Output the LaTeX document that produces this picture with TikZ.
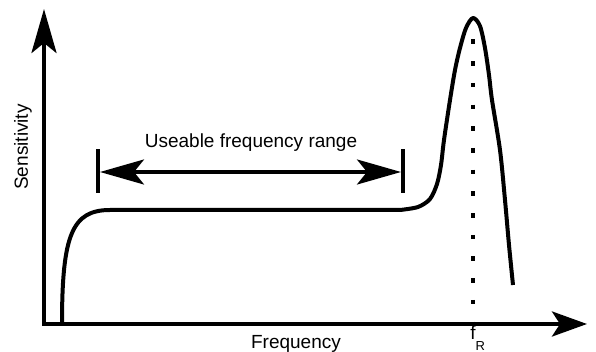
\documentclass[tikz,border=0pt]{standalone}
\usepackage{fontspec}
\setmainfont{Liberation Sans}
\usetikzlibrary{arrows.meta}

\begin{document}
\begin{tikzpicture}[x=0.5pt, y=-0.5pt, line join=round,
  axis/.style={line width=2pt, line join=miter},
  curve/.style={line width=2pt},
  rangearrow/.style={line width=1.6pt, {Stealth[length=22pt,width=12.5pt,inset=5pt]}-{Stealth[length=22pt,width=12.5pt,inset=5pt]}},
  bar/.style={line width=2pt},
  dots/.style={line width=2.3pt, dash pattern=on 2.3pt off 8.55pt},
  lbl/.style={font=\fontsize{9.5}{11}\selectfont, inner sep=0pt}]
\useasboundingbox (0,0) rectangle (596,352);
% axes
\coordinate (o) at (44,324);
\coordinate (ytop) at (44,9);
\coordinate (xend) at (587,324);
\draw[axis, {Stealth[length=22pt,width=12.5pt,inset=5pt]}-{Stealth[length=17.5pt,width=12.5pt,inset=4pt]}] (ytop) -- (o) -- (xend);
\node[lbl, rotate=90] (sens) at (23,147) {Sensitivity};
\node[lbl, anchor=base] (freq) at (296,349) {Frequency};
% response curve
\draw[curve] (62,324) .. controls (62,235) and (72,210) .. (110,210) -- (400,210)
  plot[smooth] coordinates {(400,210) (418,207) (430,199) (437,184) (441,165) (444,140) (450,100)
    (455,70) (460,48) (466,28) (473,18) (480,26) (485,48) (489,75) (492,100) (500,150)
    (505,200) (509,245) (513,285)};
% resonance
\coordinate (peak) at (473,39.5);
\coordinate (fr) at (473,326);
\draw[dots] (peak) -- (fr);
\node[lbl, anchor=base west] (frl) at (470,340) {f\raisebox{-5.5pt}{\fontsize{6.5}{7}\selectfont R}};
% useable range
\coordinate (rl) at (98,172);
\coordinate (rr) at (403,172);
\draw[bar] ([yshift=-10.5pt]rl) -- ([yshift=11.5pt]rl);
\draw[bar] ([yshift=-10.5pt]rr) -- ([yshift=11.5pt]rr);
\draw[rangearrow] ([xshift=1pt]rl) -- ([xshift=-1pt]rr);
\node[lbl, anchor=base] (rlbl) at (251,148) {Useable frequency range};
\end{tikzpicture}
\end{document}
